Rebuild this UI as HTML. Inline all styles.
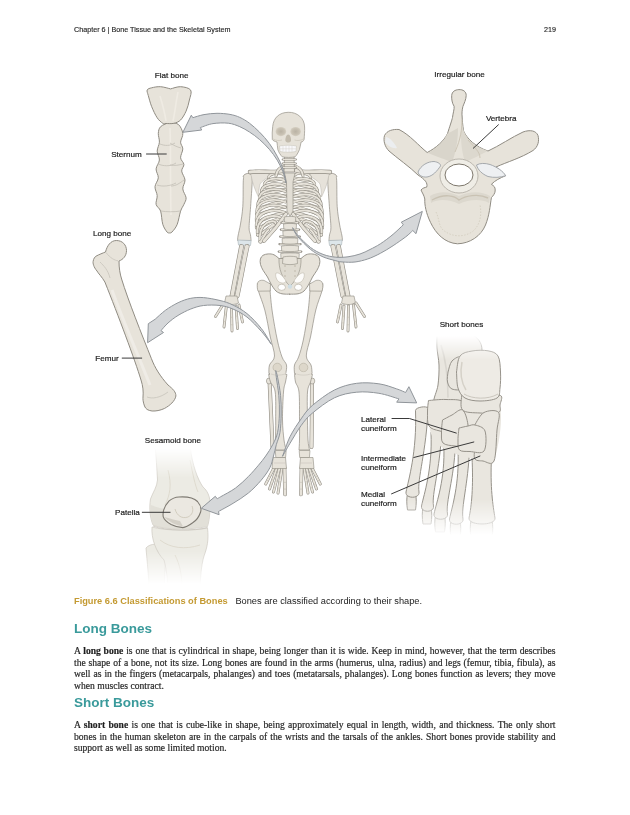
<!DOCTYPE html>
<html><head><meta charset="utf-8">
<style>
html,body{margin:0;padding:0;background:#fff;width:630px;height:815px;overflow:hidden;}
body{position:relative;font-family:"Liberation Sans",sans-serif;color:#222;}
.a{position:absolute;white-space:nowrap;}
.hdr{font-size:7.2px;color:#222;top:25px;line-height:10px;-webkit-text-stroke:0.15px #333;}
.lbl{font-size:8.5px;color:#222;line-height:10px;}
.cap{left:73.5px;top:595px;font-size:9.25px;line-height:12px;}
.cap b{color:#c49a32;}
.h2{left:74px;font-size:13.5px;font-weight:bold;color:#3a9a9b;line-height:16px;}
.p{left:74px;width:481.5px;font-family:"Liberation Serif",serif;font-size:9.6px;line-height:11.55px;color:#1c1c1c;text-align:justify;white-space:normal;-webkit-text-stroke:0.2px #333;}
.p span.l{display:block;text-align-last:justify;}
.p span.last{display:block;text-align-last:left;}
svg{position:absolute;left:0;top:0;will-change:transform;}
.a{will-change:transform;}
</style></head><body>
<div class="a hdr" style="left:74px">Chapter 6 | Bone Tissue and the Skeletal System</div>
<div class="a hdr" style="left:544px">219</div>

<svg id="ill" width="630" height="815" viewBox="0 0 630 815" font-family="Liberation Sans, sans-serif" font-size="8.1" fill="#222">
<defs>
<linearGradient id="kfade" gradientUnits="userSpaceOnUse" x1="0" y1="448" x2="0" y2="584">
<stop offset="0" stop-color="#000"/><stop offset="0.22" stop-color="#fff"/><stop offset="0.76" stop-color="#fff"/><stop offset="1" stop-color="#000"/></linearGradient>
<mask id="kmask" maskUnits="userSpaceOnUse" x="100" y="440" width="150" height="160"><rect x="100" y="440" width="150" height="160" fill="url(#kfade)"/></mask>
<linearGradient id="ffade" gradientUnits="userSpaceOnUse" x1="0" y1="336" x2="0" y2="535">
<stop offset="0" stop-color="#000"/><stop offset="0.12" stop-color="#fff"/><stop offset="0.82" stop-color="#fff"/><stop offset="1" stop-color="#000"/></linearGradient>
<mask id="fmask" maskUnits="userSpaceOnUse" x="390" y="330" width="130" height="210"><rect x="390" y="330" width="130" height="210" fill="url(#ffade)"/></mask>
</defs>
<g mask="url(#kmask)">
<path d="M146,548 C150,543 160,543 165,548 C166,556 165,570 164,600 L150,600 C149,580 147,560 146,548 Z" fill="#ecebe4" stroke="#cdc9c0" stroke-width="0.7" stroke-linejoin="round" />
<path d="M152,527 C165,531 195,531 207.5,528 C209,540 207,548 204,556 C201,566 200,580 200,600 L168,600 C168,585 167,570 164,560 C156,552 151,538 152,527 Z" fill="#ecebe4" stroke="#cdc9c0" stroke-width="0.7" stroke-linejoin="round" />
<path d="M155,445 L190,445 C192,465 198,480 203,487 C209,492 211,500 210,510 C209.5,517 209,522 207.5,526.5 C190,530 165,530 153,525 C150,518 149,508 150.5,499 C153,492 157,487 157.5,480 C157,470 156,455 155,445 Z" fill="#ecebe4" stroke="#cdc9c0" stroke-width="0.7" stroke-linejoin="round" />
<path d="M168,470 C172,485 170,495 165,505 M190,460 C193,475 195,485 198,492 M160,540 C170,548 185,550 200,545 M175,555 C180,565 182,575 182,590" fill="none" stroke="#ddd8cc" stroke-width="0.9"/>
<path d="M151,505 C165,512 195,512 209.5,505 C209.5,515 209,521 207.5,526.5 C190,530 165,530 153,525 C151,518 150.5,511 151,505 Z" fill="#dedbd3" opacity="0.7"/>
<path d="M153,526 C165,531 195,531 207.5,527.5" fill="none" stroke="#c9c5bc" stroke-width="0.8"/>
</g>
<path d="M179,497 C187,496.5 194,498 197.5,501.5 C200.5,505 201.5,509 200.6,512 C199,517 195.5,521 192.7,522.8 C189,525.5 185.5,527.5 182.9,527.6 C178,527.5 174,526 171.1,524.5 C167.5,522.5 164,519.5 163.2,516.6 C162.5,512 164.5,506 169.1,500.9 C172,498.5 175.5,497.2 179,497 Z" fill="#ebe8e1" stroke="#7f7b73" stroke-width="1.1" stroke-linejoin="round" />
<path d="M164,517 C168,521 175,525 183,526.5 L180,521 C175,520 170,518.5 164,517 Z" fill="#d3cfc6"/>
<path d="M175,509 C177,516 182,519 188,517 C192,515 194,511 192,506" fill="none" stroke="#cfc9bb" stroke-width="0.9"/>
<g mask="url(#fmask)">
<path d="M437,334 C442.5,334.0 462.5,331.3 470.0,334.0 C477.5,336.7 482.0,342.3 482.0,350.0 C482.0,357.7 473.3,371.3 470.0,380.0 C466.7,388.7 466.2,398.3 462.0,402.0 C457.8,405.7 449.7,402.0 445.0,402.0 C440.3,402.0 435.2,404.8 434.0,402.0 C432.8,399.2 437.2,391.2 438.0,385.0 C438.8,378.8 439.2,371.2 439.0,365.0 C438.8,358.8 437.3,353.2 437.0,348.0 C436.7,342.8 437.0,336.3 437.0,334.0 Z" fill="#e9e6df" stroke="#96928a" stroke-width="1.0" stroke-linejoin="round" />
<path d="M441,345 C446,360 448,378 448,398" fill="none" stroke="#d9d6cf" stroke-width="1.6"/>
<path d="M407.5,494 L415.5,494 C416.5,498 416.5,504 415.5,510 L407.5,510 C406.5,504 406.5,498 407.5,494 Z" fill="#e9e6df" stroke="#96928a" stroke-width="1.0" stroke-linejoin="round" />
<path d="M423,508 L431,508 C432,512 432,518 431,524 L423,524 C422,518 422,512 423,508 Z" fill="#e9e6df" stroke="#96928a" stroke-width="1.0" stroke-linejoin="round" />
<path d="M435.5,516 L444.5,516 C445.5,520 445.5,526 444.5,532 L435.5,532 C434.5,526 434.5,520 435.5,516 Z" fill="#e9e6df" stroke="#96928a" stroke-width="1.0" stroke-linejoin="round" />
<path d="M451,521 L460,521 C461,525 461,531 460,537 L451,537 C450,531 450,525 451,521 Z" fill="#e9e6df" stroke="#96928a" stroke-width="1.0" stroke-linejoin="round" />
<path d="M471,521 L492,521 C493,525 493,531 492,537 L471,537 C470,531 470,525 471,521 Z" fill="#e9e6df" stroke="#96928a" stroke-width="1.0" stroke-linejoin="round" />
<path d="M415.5,411 C414.5,407 429,405 428,409 C426.5,450.5 417,480 419,492 C420,499 405,499 406,492 C408.5,480 417.0,451.5 415.5,411 Z" fill="#e9e6df" stroke="#96928a" stroke-width="1.0" stroke-linejoin="round" />
<path d="M431,433 C430,429 442.5,429 441.5,433 C440.0,469.5 431.5,494 433.5,506 C434.5,513 420.5,513 421.5,506 C424.0,494 432.5,469.5 431,433 Z" fill="#e9e6df" stroke="#96928a" stroke-width="1.0" stroke-linejoin="round" />
<path d="M443.8,445 C442.8,441 456.4,441 455.4,445 C453.9,479.5 445.5,502 447.5,514 C448.5,521 433,521 434,514 C436.5,502 445.3,479.5 443.8,445 Z" fill="#e9e6df" stroke="#96928a" stroke-width="1.0" stroke-linejoin="round" />
<path d="M458,450 C457,446 470.5,446 469.5,450 C468.0,484.5 461,507 463,519 C464,526 448.5,526 449.5,519 C452.0,507 459.5,484.5 458,450 Z" fill="#e9e6df" stroke="#96928a" stroke-width="1.0" stroke-linejoin="round" />
<path d="M472,457 C471,453 492.5,453 491.5,457 C490.0,487.5 493,506 495,518 C496,526 468,526 469,518 C471.5,506 473.5,487.5 472,457 Z" fill="#e9e6df" stroke="#96928a" stroke-width="1.0" stroke-linejoin="round" />
<path d="M432,400 C442.7,399.7 485.7,388.0 496.0,398.0 C506.3,408.0 498.3,450.0 494.0,460.0 C489.7,470.0 478.5,460.0 470.0,458.0 C461.5,456.0 449.7,452.7 443.0,448.0 C436.3,443.3 431.8,438.0 430.0,430.0 C428.2,422.0 431.7,405.0 432.0,400.0 Z" fill="#e9e6df" stroke="#96928a" stroke-width="0" stroke-linejoin="round" />
<path d="M428.5,400.5 C431.4,400.3 440.2,399.2 446.0,399.5 C451.8,399.8 460.3,398.9 463.0,402.0 C465.7,405.1 463.0,412.8 462.0,418.0 C461.0,423.2 460.7,430.8 457.0,433.0 C453.3,435.2 444.7,432.2 440.0,431.0 C435.3,429.8 431.1,429.2 429.0,426.0 C426.9,422.8 427.6,416.2 427.5,412.0 C427.4,407.8 428.3,402.4 428.5,400.5 Z" fill="#e9e6df" stroke="#96928a" stroke-width="1.0" stroke-linejoin="round" />
<path d="M461.8,394.4 C465.2,395.0 475.6,397.8 482.0,398.0 C488.4,398.2 497.5,394.3 500.5,395.5 C503.5,396.7 500.3,402.2 500.0,405.0 C499.7,407.8 501.8,411.1 498.5,412.4 C495.2,413.7 486.0,413.4 480.0,413.0 C474.0,412.6 465.5,413.1 462.5,410.0 C459.5,406.9 461.9,397.0 461.8,394.4 Z" fill="#e9e6df" stroke="#96928a" stroke-width="1.0" stroke-linejoin="round" />
<path d="M474.7,425 C476.2,422.9 480.0,414.6 484.0,412.5 C488.0,410.4 496.3,409.5 498.5,412.4 C500.7,415.3 497.8,421.9 497.0,430.0 C496.2,438.1 496.3,455.8 494.0,461.0 C491.7,466.2 486.2,461.5 483.0,461.0 C479.8,460.5 475.7,461.5 474.5,458.0 C473.3,454.5 476.0,445.5 476.0,440.0 C476.0,434.5 474.9,427.5 474.7,425.0 Z" fill="#e9e6df" stroke="#96928a" stroke-width="1.0" stroke-linejoin="round" />
<path d="M442.5,420 C444.1,419.2 448.7,416.7 452.0,415.0 C455.3,413.3 459.8,408.3 462.5,410.0 C465.2,411.7 467.2,419.0 468.0,425.0 C468.8,431.0 469.2,442.5 467.0,446.0 C464.8,449.5 459.0,446.5 455.0,446.0 C451.0,445.5 445.2,445.3 443.0,443.0 C440.8,440.7 441.6,435.8 441.5,432.0 C441.4,428.2 442.3,422.0 442.5,420.0 Z" fill="#e9e6df" stroke="#96928a" stroke-width="1.0" stroke-linejoin="round" />
<path d="M459,428 C460.5,427.7 465.3,426.5 468.0,426.0 C470.7,425.5 472.2,424.2 475.0,425.0 C477.8,425.8 483.5,426.7 485.0,431.0 C486.5,435.3 486.5,447.6 484.0,451.0 C481.5,454.4 474.1,451.7 470.0,451.5 C465.9,451.3 461.5,451.9 459.5,450.0 C457.5,448.1 458.1,443.7 458.0,440.0 C457.9,436.3 458.8,430.0 459.0,428.0 Z" fill="#e9e6df" stroke="#96928a" stroke-width="1.0" stroke-linejoin="round" />
<path d="M448,372 C448.7,370.2 449.7,363.5 452.0,361.0 C454.3,358.5 459.7,355.2 462.0,357.0 C464.3,358.8 465.8,366.8 466.0,372.0 C466.2,377.2 465.3,385.2 463.0,388.0 C460.7,390.8 454.6,390.0 452.0,389.0 C449.4,388.0 448.2,384.8 447.5,382.0 C446.8,379.2 447.9,373.7 448.0,372.0 Z" fill="#e9e6df" stroke="#96928a" stroke-width="1.0" stroke-linejoin="round" />
<path d="M456.5,372 C457.1,369.3 457.4,359.5 460.0,356.0 C462.6,352.5 467.3,351.9 472.0,351.0 C476.7,350.1 483.7,350.0 488.0,350.8 C492.3,351.6 495.9,352.5 498.0,356.0 C500.1,359.5 500.2,366.7 500.5,372.0 C500.8,377.3 500.6,383.7 500.0,388.0 C499.4,392.3 500.3,395.8 497.0,398.0 C493.7,400.2 485.3,401.0 480.0,401.0 C474.7,401.0 468.7,400.2 465.0,398.0 C461.3,395.8 459.4,392.3 458.0,388.0 C456.6,383.7 456.8,374.7 456.5,372.0 Z" fill="#eeebe5" stroke="#96928a" stroke-width="1.0" stroke-linejoin="round" />
<path d="M464,394 C472,399 488,400 498,394" fill="none" stroke="#c6c2b9" stroke-width="0.9"/>
<path d="M462,362 C460,372 461,382 466,390" fill="none" stroke="#d5d1c8" stroke-width="1.5"/>
</g>
<path d="M169.4,122.2 C167.9,123.0 162.4,124.8 160.6,126.7 C158.8,128.6 158.5,130.7 158.3,133.3 C158.1,135.9 159.6,139.2 159.4,142.2 C159.2,145.2 157.2,148.1 157.2,151.1 C157.2,154.1 159.6,157.0 159.4,160.0 C159.2,163.0 156.3,165.9 156.1,168.9 C155.9,171.9 158.5,174.8 158.3,177.8 C158.1,180.8 155.2,183.7 155.0,186.7 C154.8,189.7 157.0,192.6 157.2,195.6 C157.4,198.6 155.5,201.8 156.1,204.4 C156.7,207.0 159.5,207.8 160.6,211.1 C161.7,214.4 161.7,220.9 162.8,224.4 C163.9,227.9 165.9,230.6 167.0,232.0 C168.1,233.4 169.1,232.8 169.5,233.0 C169.9,232.8 170.7,233.4 172.0,232.0 C173.3,230.6 175.8,227.9 177.2,224.4 C178.6,220.9 179.5,214.4 180.6,211.1 C181.7,207.8 183.0,206.6 183.9,204.4 C184.8,202.2 186.3,200.4 186.1,197.8 C185.9,195.2 183.0,191.9 182.8,188.9 C182.6,185.9 185.2,183.0 185.0,180.0 C184.8,177.0 181.9,173.7 181.7,171.1 C181.5,168.5 184.1,166.6 183.9,164.4 C183.7,162.2 180.8,160.4 180.6,157.8 C180.4,155.2 182.8,151.5 182.8,148.9 C182.8,146.3 180.6,144.8 180.6,142.2 C180.6,139.6 183.2,136.3 182.8,133.3 C182.4,130.3 180.5,126.2 178.3,124.4 C176.1,122.6 170.9,122.6 169.4,122.2 Z" fill="#e7e3da" stroke="#8f8b82" stroke-width="1.0" stroke-linejoin="round" />
<path d="M170.6,88.9 C172.3,88.5 177.3,86.5 180.6,86.7 C183.9,86.9 189.1,87.8 190.6,90.0 C192.1,92.2 190.2,96.5 189.4,100.0 C188.7,103.5 187.6,107.8 186.1,111.1 C184.6,114.4 182.6,118.0 180.6,120.0 C178.6,122.0 176.3,122.7 173.9,123.3 C171.5,123.9 167.8,123.5 166.0,123.5 C164.2,123.5 164.3,124.2 162.8,123.3 C161.3,122.3 159.0,120.6 157.2,117.8 C155.3,115.0 153.2,110.4 151.7,106.7 C150.2,103.0 149.1,98.4 148.3,95.6 C147.6,92.8 146.6,91.3 147.2,90.0 C147.8,88.7 149.5,88.3 151.7,87.8 C153.9,87.2 157.4,86.5 160.6,86.7 C163.8,86.9 168.9,88.5 170.6,88.9 Z" fill="#e7e3da" stroke="#8f8b82" stroke-width="1.0" stroke-linejoin="round" />
<path d="M160,96 C163,106 165,114 166,121 M178,92 C176,102 175,112 173,121 M170,128 C171,150 170,175 171,215" fill="none" stroke="#efebe3" stroke-width="1.6"/><path d="M160,144 C165,146 170,146 175,143 M170,143 C173,145 177,147 181,148 M158,164 C163,166 170,167 176,163 M170,165 C175,166 179,165 183,164 M157,185 C163,187 170,186 176,183 M171,186 C176,186 180,183 184,180 M161,211 C166,212 175,212 180.5,211" fill="none" stroke="#c3bfb6" stroke-width="0.8"/>
<path d="M458.9,89.6 C463,89.4 466.3,91.5 466.2,95.5 C466.1,99.5 464,103.5 462.9,106.5 C462,110 461.8,114 462.1,116 C462.3,120 462.6,125 463.6,131 C467,139 476,147 488,151 C499,146 512,137 523,132 C530,129.5 536,130.5 538,135.5 C539.5,141 538,147 533,150.5 C521,158 507,162 496,167 L505.7,175.7 C500,178 495,180.5 491.4,184.3 C494,186 495.2,187 495.2,190 C495.5,193 493,196 491.4,197.6 C490,206 489.5,215 485.5,225 C481,236 470,243.5 457.5,243.8 C445,243 436,234 430.5,222.4 C426,213 424.5,205 424.8,199 C424,195 422,192.5 421,190 C422.5,188 425,187.5 426.7,187.1 C428,183 425,179.5 418,175 C410,167 397,158 389,151 C385,147 383,141 384.5,135.5 C387,130.5 393,129 399,129.5 C410,135 419,146 427.2,152.5 C436,148 444,141 447.5,133.6 C449.5,127 452,120 452.5,117.4 C453,113 454.5,109 454.1,106.3 C452,103 451.5,99 451.7,95.5 C452,91.5 455,89.8 458.9,89.6 Z" fill="#e7e3da" stroke="#8f8b82" stroke-width="1.0" stroke-linejoin="round" />
<path d="M447,134 C444,142 436,149 428,153 C436,156 446,160 452,162 C456,152 458,140 458,128 Z" fill="#d9d5cb"/>
<path d="M462,122 C463,135 470,145 488,151 C478,156 470,160 465,162 C461,150 460,135 462,122 Z" fill="#dcd8ce"/>
<path d="M430,196 C440,190 450,192 459,196 C468,192 480,190 490,196 L489,203 C480,198 468,200 459,204 C450,200 440,198 431,203 Z" fill="#dcd8ce"/>
<path d="M418,172 C421,165 428,161.5 434,161.5 C438,162 441,164 440.5,166 C437,171 433,176 427,177 C422,177.5 418.5,175 418,172 Z" fill="#eef0f2" stroke="#9da1a6" stroke-width="0.9" stroke-linejoin="round" />
<path d="M476.5,165 C480,163 485,163 490,164.5 C497,167 503,171 505.7,175.7 C500,177.5 494,178 488,176.5 C482,174 478,170 476.5,165 Z" fill="#eef0f2" stroke="#9da1a6" stroke-width="0.9" stroke-linejoin="round" />
<path d="M386,137 C390,138 394,142 397,148 C393,149 388,146 385,142 Z" fill="#eceef0" stroke="none" stroke-width="0" stroke-linejoin="round" />
<ellipse cx="459" cy="176" rx="19" ry="17" fill="#efede6" stroke="#b5b1a8" stroke-width="0.9"/>
<ellipse cx="459" cy="175" rx="14" ry="11" fill="#ffffff" stroke="#7d776c" stroke-width="1"/>
<path d="M432,200 C445,193 455,196 459,200 C465,196 478,193 488,198" fill="none" stroke="#c9c2b3" stroke-width="1.4"/>
<path d="M436,212 C440,220 438,228 446,232 C452,236 462,238 472,232 C480,226 482,215 480,205" fill="none" stroke="#cfc8b9" stroke-width="0.7" stroke-dasharray="1.5 1.5"/>
<path d="M462,120 C462,135 458,145 455,152 M468,140 C475,148 480,152 480,158" fill="none" stroke="#cdc6b7" stroke-width="1"/>
<path d="M116.4,240.5 C122.5,240.5 126.5,245 126.5,250.5 C126.5,256 123,259.5 119,261 C119,268 120,274 121.6,279 C128,300 142,335 151.4,358.6 C155,368 160,376 168,385 C173,389 176,392 175.9,396 C175,401 170,405.5 164.4,408.5 C160,410.5 156,411.2 152.1,411 C148,410.5 145.5,409 144.5,406 C143,402 142.8,399 143,397 C143.5,392 143,386 141,380 C135,360 118,315 104.9,282 C102,277 98,273 97,271 C93.5,267 92.8,263 93.1,261.5 C93.5,258.5 95,256.8 96,256.2 C99,254.5 103,253 105.5,252 C107,246 110.5,240.5 116.4,240.5 Z" fill="#e7e3da" stroke="#8f8b82" stroke-width="1.0" stroke-linejoin="round" />
<path d="M106,252.5 C110,258 115,260.5 118,260.8 M100,262 C104,266 108,270 110,278 M147,397 C152,399 160,398 168,392" fill="none" stroke="#cbc7be" stroke-width="0.9"/>
<path d="M112,290 C122,318 136,350 150,385" fill="none" stroke="#efece6" stroke-width="3"/>
<path d="M244.5,174.8 C244.3,175.8 243.6,175.3 243.3,180.6 C243.0,185.9 243.3,199.5 242.8,206.7 C242.3,213.9 241.3,219.1 240.5,224.0 C239.7,228.9 238.5,233.2 238.0,236.0 C237.5,238.8 237.7,239.8 237.6,240.5 L251.1,240.5 C251.0,239.6 250.8,237.2 250.5,235.0 C250.2,232.8 249.1,232.2 249.1,227.5 C249.1,222.8 250.1,214.3 250.6,206.7 C251.1,199.1 252.0,187.3 252.2,182.0 C252.3,176.7 251.6,175.8 251.5,174.6 Z" fill="#e7e3da" stroke="#8f8b82" stroke-width="0.7" stroke-linejoin="round" />
<path d="M328.5,174.6 C328.4,175.8 327.7,176.7 327.8,182.0 C327.9,187.3 328.9,199.1 329.4,206.7 C329.9,214.3 330.9,222.8 330.9,227.5 C330.9,232.2 329.8,232.8 329.5,235.0 C329.2,237.2 329.0,239.6 328.9,240.5 L342.4,240.5 C342.3,239.8 342.5,238.8 342.0,236.0 C341.5,233.2 340.3,228.9 339.5,224.0 C338.7,219.1 337.7,213.9 337.2,206.7 C336.7,199.5 337.0,185.9 336.7,180.6 C336.4,175.3 335.7,175.8 335.5,174.8 Z" fill="#e7e3da" stroke="#8f8b82" stroke-width="0.7" stroke-linejoin="round" />
<path d="M243,177 C244,173 250,172 252.5,176" fill="#e7e3da" stroke="#8f8b82" stroke-width="0.7"/>
<path d="M337,177 C336,173 330,172 327.5,176" fill="#e7e3da" stroke="#8f8b82" stroke-width="0.7"/>
<path d="M237.8,240 L251.2,240.5 L250.5,245.5 L238.5,245 Z" fill="#dde6ea" stroke="#a9b3b8" stroke-width="0.6"/>
<path d="M342.2,240 L328.8,240.5 L329.5,245.5 L341.5,245 Z" fill="#dde6ea" stroke="#a9b3b8" stroke-width="0.6"/>
<path d="M241.5,246.5 C238.5,262 235.5,278 232,296" fill="none" stroke="#8f8b82" stroke-width="4.8" stroke-linecap="round" stroke-linejoin="round"/><path d="M241.5,246.5 C238.5,262 235.5,278 232,296" fill="none" stroke="#e7e3da" stroke-width="3.6" stroke-linecap="round" stroke-linejoin="round"/>
<path d="M247,246.5 C243.5,262 240.5,280 237,296" fill="none" stroke="#8f8b82" stroke-width="5.0" stroke-linecap="round" stroke-linejoin="round"/><path d="M247,246.5 C243.5,262 240.5,280 237,296" fill="none" stroke="#e7e3da" stroke-width="3.8" stroke-linecap="round" stroke-linejoin="round"/>
<path d="M338.5,246.5 C341.5,262 344.5,278 348,296" fill="none" stroke="#8f8b82" stroke-width="4.8" stroke-linecap="round" stroke-linejoin="round"/><path d="M338.5,246.5 C341.5,262 344.5,278 348,296" fill="none" stroke="#e7e3da" stroke-width="3.6" stroke-linecap="round" stroke-linejoin="round"/>
<path d="M333,246.5 C336.5,262 339.5,280 343,296" fill="none" stroke="#8f8b82" stroke-width="5.0" stroke-linecap="round" stroke-linejoin="round"/><path d="M333,246.5 C336.5,262 339.5,280 343,296" fill="none" stroke="#e7e3da" stroke-width="3.8" stroke-linecap="round" stroke-linejoin="round"/>
<path d="M226.0,296 L237.0,296 L238.5,303 C234.5,305 228.5,305 224.5,303 Z" fill="#e7e3da" stroke="#8f8b82" stroke-width="0.6" stroke-linejoin="round" /><path d="M224.0,303 L215.5,316.5" fill="none" stroke="#8f8b82" stroke-width="2.8" stroke-linecap="round" stroke-linejoin="round"/><path d="M224.0,303 L215.5,316.5" fill="none" stroke="#e7e3da" stroke-width="1.7" stroke-linecap="round" stroke-linejoin="round"/><path d="M226.5,305 L224.0,327" fill="none" stroke="#8f8b82" stroke-width="2.8" stroke-linecap="round" stroke-linejoin="round"/><path d="M226.5,305 L224.0,327" fill="none" stroke="#e7e3da" stroke-width="1.7" stroke-linecap="round" stroke-linejoin="round"/><path d="M231.5,306 L232.0,331" fill="none" stroke="#8f8b82" stroke-width="2.8" stroke-linecap="round" stroke-linejoin="round"/><path d="M231.5,306 L232.0,331" fill="none" stroke="#e7e3da" stroke-width="1.7" stroke-linecap="round" stroke-linejoin="round"/><path d="M236.0,306 L237.5,328.5" fill="none" stroke="#8f8b82" stroke-width="2.8" stroke-linecap="round" stroke-linejoin="round"/><path d="M236.0,306 L237.5,328.5" fill="none" stroke="#e7e3da" stroke-width="1.7" stroke-linecap="round" stroke-linejoin="round"/><path d="M239.0,305 L242.5,322" fill="none" stroke="#8f8b82" stroke-width="2.8" stroke-linecap="round" stroke-linejoin="round"/><path d="M239.0,305 L242.5,322" fill="none" stroke="#e7e3da" stroke-width="1.7" stroke-linecap="round" stroke-linejoin="round"/><path d="M224.075,314.9 L226.675,314.9" stroke="#c2bcae" stroke-width="0.5"/><path d="M223.325,321.5 L225.925,321.5" stroke="#c2bcae" stroke-width="0.5"/><path d="M230.42499999999998,317.25 L233.025,317.25" stroke="#c2bcae" stroke-width="0.5"/><path d="M230.575,324.75 L233.175,324.75" stroke="#c2bcae" stroke-width="0.5"/><path d="M235.375,316.125 L237.97500000000002,316.125" stroke="#c2bcae" stroke-width="0.5"/><path d="M235.825,322.875 L238.425,322.875" stroke="#c2bcae" stroke-width="0.5"/><path d="M239.27499999999998,312.65 L241.875,312.65" stroke="#c2bcae" stroke-width="0.5"/><path d="M240.325,317.75 L242.925,317.75" stroke="#c2bcae" stroke-width="0.5"/>
<path d="M354.0,296 L343.0,296 L341.5,303 C345.5,305 351.5,305 355.5,303 Z" fill="#e7e3da" stroke="#8f8b82" stroke-width="0.6" stroke-linejoin="round" /><path d="M356.0,303 L364.5,316.5" fill="none" stroke="#8f8b82" stroke-width="2.8" stroke-linecap="round" stroke-linejoin="round"/><path d="M356.0,303 L364.5,316.5" fill="none" stroke="#e7e3da" stroke-width="1.7" stroke-linecap="round" stroke-linejoin="round"/><path d="M353.5,305 L356.0,327" fill="none" stroke="#8f8b82" stroke-width="2.8" stroke-linecap="round" stroke-linejoin="round"/><path d="M353.5,305 L356.0,327" fill="none" stroke="#e7e3da" stroke-width="1.7" stroke-linecap="round" stroke-linejoin="round"/><path d="M348.5,306 L348.0,331" fill="none" stroke="#8f8b82" stroke-width="2.8" stroke-linecap="round" stroke-linejoin="round"/><path d="M348.5,306 L348.0,331" fill="none" stroke="#e7e3da" stroke-width="1.7" stroke-linecap="round" stroke-linejoin="round"/><path d="M344.0,306 L342.5,328.5" fill="none" stroke="#8f8b82" stroke-width="2.8" stroke-linecap="round" stroke-linejoin="round"/><path d="M344.0,306 L342.5,328.5" fill="none" stroke="#e7e3da" stroke-width="1.7" stroke-linecap="round" stroke-linejoin="round"/><path d="M341.0,305 L337.5,322" fill="none" stroke="#8f8b82" stroke-width="2.8" stroke-linecap="round" stroke-linejoin="round"/><path d="M341.0,305 L337.5,322" fill="none" stroke="#e7e3da" stroke-width="1.7" stroke-linecap="round" stroke-linejoin="round"/><path d="M353.325,314.9 L355.925,314.9" stroke="#c2bcae" stroke-width="0.5"/><path d="M354.075,321.5 L356.675,321.5" stroke="#c2bcae" stroke-width="0.5"/><path d="M346.97499999999997,317.25 L349.575,317.25" stroke="#c2bcae" stroke-width="0.5"/><path d="M346.825,324.75 L349.425,324.75" stroke="#c2bcae" stroke-width="0.5"/><path d="M342.025,316.125 L344.625,316.125" stroke="#c2bcae" stroke-width="0.5"/><path d="M341.575,322.875 L344.175,322.875" stroke="#c2bcae" stroke-width="0.5"/><path d="M338.125,312.65 L340.725,312.65" stroke="#c2bcae" stroke-width="0.5"/><path d="M337.075,317.75 L339.675,317.75" stroke="#c2bcae" stroke-width="0.5"/>
<path d="M257.4,283.5 C257.6,284.8 257.3,286.8 258.5,291.2 C259.7,295.6 262.8,302.4 264.8,310.0 C266.8,317.6 268.7,329.3 270.3,337.0 C271.9,344.7 274.6,351.3 274.5,356.0 C274.4,360.7 270.4,362.1 269.5,365.0 C268.6,367.9 269.0,372.1 268.9,373.5 L285.8,373.5 C285.9,372.1 287.1,367.8 286.5,365.0 C285.9,362.2 283.5,361.2 282.0,357.0 C280.5,352.8 278.9,347.5 277.3,340.0 C275.7,332.5 273.5,320.3 272.3,312.0 C271.1,303.7 270.4,294.8 270.0,290.0 C269.6,285.2 270.2,284.6 270.2,283.5 Z" fill="#e7e3da" stroke="#8f8b82" stroke-width="0.7" stroke-linejoin="round" />
<path d="M309.8,283.5 C309.8,284.6 310.3,285.2 310.0,290.0 C309.7,294.8 309.1,303.7 308.0,312.0 C306.9,320.3 304.9,332.5 303.3,340.0 C301.7,347.5 300.1,352.8 298.6,357.0 C297.1,361.2 295.2,362.2 294.5,365.0 C293.8,367.8 294.5,372.1 294.5,373.5 L312.1,373.5 C311.9,372.1 312.0,367.9 311.0,365.0 C310.0,362.1 306.4,360.7 306.3,356.0 C306.2,351.3 308.9,344.7 310.5,337.0 C312.1,329.3 313.9,317.6 315.8,310.0 C317.7,302.4 320.7,295.6 321.9,291.2 C323.1,286.8 322.7,284.8 322.9,283.5 Z" fill="#e7e3da" stroke="#8f8b82" stroke-width="0.7" stroke-linejoin="round" />
<circle cx="277.3" cy="367.5" r="4.3" fill="#ddd7ca" stroke="#bcb6a8" stroke-width="0.7"/>
<circle cx="303.5" cy="367.5" r="4.3" fill="#ddd7ca" stroke="#bcb6a8" stroke-width="0.7"/>
<path d="M269.5,380 C270.5,400 271.5,425 272.5,447" fill="none" stroke="#8f8b82" stroke-width="4.0" stroke-linecap="round" stroke-linejoin="round"/><path d="M269.5,380 C270.5,400 271.5,425 272.5,447" fill="none" stroke="#e7e3da" stroke-width="2.8" stroke-linecap="round" stroke-linejoin="round"/>
<path d="M312,380 C312,400 311.8,425 311.5,447" fill="none" stroke="#8f8b82" stroke-width="4.0" stroke-linecap="round" stroke-linejoin="round"/><path d="M312,380 C312,400 311.8,425 311.5,447" fill="none" stroke="#e7e3da" stroke-width="2.8" stroke-linecap="round" stroke-linejoin="round"/>
<ellipse cx="269" cy="381" rx="2.6" ry="3" fill="#e7e3da" stroke="#8f8b82" stroke-width="0.6"/>
<ellipse cx="312.2" cy="381" rx="2.6" ry="3" fill="#e7e3da" stroke="#8f8b82" stroke-width="0.6"/>
<path d="M268.6,374.5 C268.9,375.8 269.4,379.1 270.5,382.0 C271.6,384.9 274.3,385.7 275.2,392.0 C276.1,398.3 275.6,412.0 275.7,420.0 C275.8,428.0 275.5,435.0 275.5,440.0 C275.5,445.0 275.7,448.3 275.7,450.0 L286.1,450 C285.8,448.3 284.6,445.0 284.0,440.0 C283.4,435.0 282.6,428.0 282.5,420.0 C282.4,412.0 283.0,398.3 283.5,392.0 C284.0,385.7 284.9,384.9 285.5,382.0 C286.1,379.1 286.7,375.8 286.9,374.5 Z" fill="#e7e3da" stroke="#8f8b82" stroke-width="0.7" stroke-linejoin="round" />
<path d="M294.5,374.5 C294.7,375.8 294.8,379.1 295.5,382.0 C296.2,384.9 298.3,385.7 299.0,392.0 C299.7,398.3 299.4,412.0 299.5,420.0 C299.6,428.0 299.6,435.0 299.5,440.0 C299.4,445.0 299.1,448.3 299.0,450.0 L309.5,450 C309.2,448.3 308.3,445.0 308.0,440.0 C307.7,435.0 307.6,428.0 307.5,420.0 C307.4,412.0 307.0,398.3 307.5,392.0 C308.0,385.7 309.7,384.9 310.5,382.0 C311.3,379.1 312.2,375.8 312.5,374.5 Z" fill="#e7e3da" stroke="#8f8b82" stroke-width="0.7" stroke-linejoin="round" />
<rect x="270" y="372.5" width="15.5" height="3.2" fill="#e7e3da"/><rect x="295.8" y="372.5" width="15.5" height="3.2" fill="#e7e3da"/>
<path d="M271,374 C275,375.5 281,375.5 285,374 M296.5,374 C300.5,375.5 306.5,375.5 310.5,374" fill="none" stroke="#cdc9c0" stroke-width="0.7"/>
<path d="M275.3,450.5 L286.2,450.5 L285.6,457.5 L275.8,457.5 Z" fill="#e7e3da" stroke="#8f8b82" stroke-width="0.6" stroke-linejoin="round" />
<path d="M299.2,450.5 L310,450.5 L309.4,457.5 L299.7,457.5 Z" fill="#e7e3da" stroke="#8f8b82" stroke-width="0.6" stroke-linejoin="round" />
<path d="M274.5,467 L265.7,484" fill="none" stroke="#8f8b82" stroke-width="2.9000000000000004" stroke-linecap="round" stroke-linejoin="round"/><path d="M274.5,467 L265.7,484" fill="none" stroke="#e7e3da" stroke-width="1.8" stroke-linecap="round" stroke-linejoin="round"/><path d="M277.0,467.5 L269.5,489" fill="none" stroke="#8f8b82" stroke-width="2.9000000000000004" stroke-linecap="round" stroke-linejoin="round"/><path d="M277.0,467.5 L269.5,489" fill="none" stroke="#e7e3da" stroke-width="1.8" stroke-linecap="round" stroke-linejoin="round"/><path d="M279.5,468 L273.5,492" fill="none" stroke="#8f8b82" stroke-width="2.9000000000000004" stroke-linecap="round" stroke-linejoin="round"/><path d="M279.5,468 L273.5,492" fill="none" stroke="#e7e3da" stroke-width="1.8" stroke-linecap="round" stroke-linejoin="round"/><path d="M282.0,468 L278.0,493" fill="none" stroke="#8f8b82" stroke-width="2.9000000000000004" stroke-linecap="round" stroke-linejoin="round"/><path d="M282.0,468 L278.0,493" fill="none" stroke="#e7e3da" stroke-width="1.8" stroke-linecap="round" stroke-linejoin="round"/><path d="M284.5,467.5 L285.0,494.5" fill="none" stroke="#8f8b82" stroke-width="3.7" stroke-linecap="round" stroke-linejoin="round"/><path d="M284.5,467.5 L285.0,494.5" fill="none" stroke="#e7e3da" stroke-width="2.6" stroke-linecap="round" stroke-linejoin="round"/><path d="M268.46000000000004,476.35 L270.86,476.35" stroke="#bdb9b0" stroke-width="0.5"/><path d="M266.26,480.6 L268.65999999999997,480.6" stroke="#bdb9b0" stroke-width="0.5"/><path d="M271.675,479.325 L274.075,479.325" stroke="#bdb9b0" stroke-width="0.5"/><path d="M269.8,484.7 L272.2,484.7" stroke="#bdb9b0" stroke-width="0.5"/><path d="M275.0,481.2 L277.4,481.2" stroke="#bdb9b0" stroke-width="0.5"/><path d="M273.5,487.2 L275.9,487.2" stroke="#bdb9b0" stroke-width="0.5"/><path d="M278.6,481.75 L281.0,481.75" stroke="#bdb9b0" stroke-width="0.5"/><path d="M277.6,488.0 L280.0,488.0" stroke="#bdb9b0" stroke-width="0.5"/><path d="M283.575,482.35 L285.97499999999997,482.35" stroke="#bdb9b0" stroke-width="0.5"/><path d="M283.7,489.1 L286.09999999999997,489.1" stroke="#bdb9b0" stroke-width="0.5"/><path d="M273.0,457.5 L285.5,457.5 L286.5,468.5 L272.0,468.5 Z" fill="#e7e3da" stroke="#8f8b82" stroke-width="0.6" stroke-linejoin="round" /><path d="M274.0,463 L285.8,463" stroke="#c9c5bc" stroke-width="0.6"/>
<path d="M311.5,467 L320.3,484" fill="none" stroke="#8f8b82" stroke-width="2.9000000000000004" stroke-linecap="round" stroke-linejoin="round"/><path d="M311.5,467 L320.3,484" fill="none" stroke="#e7e3da" stroke-width="1.8" stroke-linecap="round" stroke-linejoin="round"/><path d="M309.0,467.5 L316.5,489" fill="none" stroke="#8f8b82" stroke-width="2.9000000000000004" stroke-linecap="round" stroke-linejoin="round"/><path d="M309.0,467.5 L316.5,489" fill="none" stroke="#e7e3da" stroke-width="1.8" stroke-linecap="round" stroke-linejoin="round"/><path d="M306.5,468 L312.5,492" fill="none" stroke="#8f8b82" stroke-width="2.9000000000000004" stroke-linecap="round" stroke-linejoin="round"/><path d="M306.5,468 L312.5,492" fill="none" stroke="#e7e3da" stroke-width="1.8" stroke-linecap="round" stroke-linejoin="round"/><path d="M304.0,468 L308.0,493" fill="none" stroke="#8f8b82" stroke-width="2.9000000000000004" stroke-linecap="round" stroke-linejoin="round"/><path d="M304.0,468 L308.0,493" fill="none" stroke="#e7e3da" stroke-width="1.8" stroke-linecap="round" stroke-linejoin="round"/><path d="M301.5,467.5 L301.0,494.5" fill="none" stroke="#8f8b82" stroke-width="3.7" stroke-linecap="round" stroke-linejoin="round"/><path d="M301.5,467.5 L301.0,494.5" fill="none" stroke="#e7e3da" stroke-width="2.6" stroke-linecap="round" stroke-linejoin="round"/><path d="M315.14,476.35 L317.53999999999996,476.35" stroke="#bdb9b0" stroke-width="0.5"/><path d="M317.34000000000003,480.6 L319.74,480.6" stroke="#bdb9b0" stroke-width="0.5"/><path d="M311.925,479.325 L314.325,479.325" stroke="#bdb9b0" stroke-width="0.5"/><path d="M313.8,484.7 L316.2,484.7" stroke="#bdb9b0" stroke-width="0.5"/><path d="M308.6,481.2 L311.0,481.2" stroke="#bdb9b0" stroke-width="0.5"/><path d="M310.1,487.2 L312.5,487.2" stroke="#bdb9b0" stroke-width="0.5"/><path d="M305.0,481.75 L307.4,481.75" stroke="#bdb9b0" stroke-width="0.5"/><path d="M306.0,488.0 L308.4,488.0" stroke="#bdb9b0" stroke-width="0.5"/><path d="M300.02500000000003,482.35 L302.425,482.35" stroke="#bdb9b0" stroke-width="0.5"/><path d="M299.90000000000003,489.1 L302.3,489.1" stroke="#bdb9b0" stroke-width="0.5"/><path d="M313.0,457.5 L300.5,457.5 L299.5,468.5 L314.0,468.5 Z" fill="#e7e3da" stroke="#8f8b82" stroke-width="0.6" stroke-linejoin="round" /><path d="M312.0,463 L300.2,463" stroke="#c9c5bc" stroke-width="0.6"/>
<path d="M268,172 C260,180 257,192 257,205 C257,220 260,232 264,241 C272,233 280,222 286.8,215 L292,215 C299,222 307,233 315,241 C319,232 322,220 322,205 C322,192 319,180 311,172 Z" fill="#fbfaf7" stroke="none" stroke-width="0" stroke-linejoin="round" />
<path d="M250,171.5 C260,170 272,171 284,172 C275,174 264,178 260,184 C259,188 258.5,192 258.5,197 C255,190 252.5,183 251.5,177 Z" fill="#e6e2da" stroke="#b9b5ac" stroke-width="0.5" stroke-linejoin="round" />
<path d="M330,171.5 C320,170 308,171 296,172 C305,174 316,178 320,184 C321,188 321.5,192 321.5,197 C325,190 327.5,183 328.5,177 Z" fill="#e6e2da" stroke="#b9b5ac" stroke-width="0.5" stroke-linejoin="round" />
<path d="M285.3,175.5 C279.0,171.0 266.5,173.5 268.5,179.5" fill="none" stroke="#8f8b82" stroke-width="2.9" stroke-linecap="round" stroke-linejoin="round"/><path d="M285.3,175.5 C279.0,171.0 266.5,173.5 268.5,179.5" fill="none" stroke="#e7e3da" stroke-width="1.9" stroke-linecap="round" stroke-linejoin="round"/>
<path d="M268.5,179.5 C269.5,182.5 277.9,179.0 285.3,178.0" fill="none" stroke="#8f8b82" stroke-width="3.2" stroke-linecap="round" stroke-linejoin="round"/><path d="M268.5,179.5 C269.5,182.5 277.9,179.0 285.3,178.0" fill="none" stroke="#e7e3da" stroke-width="2.2" stroke-linecap="round" stroke-linejoin="round"/>
<path d="M293.7,175.5 C300.0,171.0 312.5,173.5 310.5,179.5" fill="none" stroke="#8f8b82" stroke-width="2.9" stroke-linecap="round" stroke-linejoin="round"/><path d="M293.7,175.5 C300.0,171.0 312.5,173.5 310.5,179.5" fill="none" stroke="#e7e3da" stroke-width="1.9" stroke-linecap="round" stroke-linejoin="round"/>
<path d="M310.5,179.5 C309.5,182.5 301.1,179.0 293.7,178.0" fill="none" stroke="#8f8b82" stroke-width="3.2" stroke-linecap="round" stroke-linejoin="round"/><path d="M310.5,179.5 C309.5,182.5 301.1,179.0 293.7,178.0" fill="none" stroke="#e7e3da" stroke-width="2.2" stroke-linecap="round" stroke-linejoin="round"/>
<path d="M285.3,180.8 C277.0,176.3 262.5,178.8 264.5,186.4" fill="none" stroke="#8f8b82" stroke-width="2.9" stroke-linecap="round" stroke-linejoin="round"/><path d="M285.3,180.8 C277.0,176.3 262.5,178.8 264.5,186.4" fill="none" stroke="#e7e3da" stroke-width="1.9" stroke-linecap="round" stroke-linejoin="round"/>
<path d="M264.5,186.4 C265.5,189.4 275.8,184.8 285.3,183.8" fill="none" stroke="#8f8b82" stroke-width="3.2" stroke-linecap="round" stroke-linejoin="round"/><path d="M264.5,186.4 C265.5,189.4 275.8,184.8 285.3,183.8" fill="none" stroke="#e7e3da" stroke-width="2.2" stroke-linecap="round" stroke-linejoin="round"/>
<path d="M293.7,180.8 C302.0,176.3 316.5,178.8 314.5,186.4" fill="none" stroke="#8f8b82" stroke-width="2.9" stroke-linecap="round" stroke-linejoin="round"/><path d="M293.7,180.8 C302.0,176.3 316.5,178.8 314.5,186.4" fill="none" stroke="#e7e3da" stroke-width="1.9" stroke-linecap="round" stroke-linejoin="round"/>
<path d="M314.5,186.4 C313.5,189.4 303.2,184.8 293.7,183.8" fill="none" stroke="#8f8b82" stroke-width="3.2" stroke-linecap="round" stroke-linejoin="round"/><path d="M314.5,186.4 C313.5,189.4 303.2,184.8 293.7,183.8" fill="none" stroke="#e7e3da" stroke-width="2.2" stroke-linecap="round" stroke-linejoin="round"/>
<path d="M285.3,186.1 C275.5,181.6 259.5,184.1 261.5,193.3" fill="none" stroke="#8f8b82" stroke-width="2.9" stroke-linecap="round" stroke-linejoin="round"/><path d="M285.3,186.1 C275.5,181.6 259.5,184.1 261.5,193.3" fill="none" stroke="#e7e3da" stroke-width="1.9" stroke-linecap="round" stroke-linejoin="round"/>
<path d="M261.5,193.3 C262.5,196.3 274.1,190.6 285.3,189.6" fill="none" stroke="#8f8b82" stroke-width="3.2" stroke-linecap="round" stroke-linejoin="round"/><path d="M261.5,193.3 C262.5,196.3 274.1,190.6 285.3,189.6" fill="none" stroke="#e7e3da" stroke-width="2.2" stroke-linecap="round" stroke-linejoin="round"/>
<path d="M293.7,186.1 C303.5,181.6 319.5,184.1 317.5,193.3" fill="none" stroke="#8f8b82" stroke-width="2.9" stroke-linecap="round" stroke-linejoin="round"/><path d="M293.7,186.1 C303.5,181.6 319.5,184.1 317.5,193.3" fill="none" stroke="#e7e3da" stroke-width="1.9" stroke-linecap="round" stroke-linejoin="round"/>
<path d="M317.5,193.3 C316.5,196.3 304.9,190.6 293.7,189.6" fill="none" stroke="#8f8b82" stroke-width="3.2" stroke-linecap="round" stroke-linejoin="round"/><path d="M317.5,193.3 C316.5,196.3 304.9,190.6 293.7,189.6" fill="none" stroke="#e7e3da" stroke-width="2.2" stroke-linecap="round" stroke-linejoin="round"/>
<path d="M285.3,191.4 C274.5,186.9 257.5,189.4 259.5,200.2" fill="none" stroke="#8f8b82" stroke-width="2.9" stroke-linecap="round" stroke-linejoin="round"/><path d="M285.3,191.4 C274.5,186.9 257.5,189.4 259.5,200.2" fill="none" stroke="#e7e3da" stroke-width="1.9" stroke-linecap="round" stroke-linejoin="round"/>
<path d="M259.5,200.2 C260.5,203.2 273.0,196.4 285.3,195.4" fill="none" stroke="#8f8b82" stroke-width="3.2" stroke-linecap="round" stroke-linejoin="round"/><path d="M259.5,200.2 C260.5,203.2 273.0,196.4 285.3,195.4" fill="none" stroke="#e7e3da" stroke-width="2.2" stroke-linecap="round" stroke-linejoin="round"/>
<path d="M293.7,191.4 C304.5,186.9 321.5,189.4 319.5,200.2" fill="none" stroke="#8f8b82" stroke-width="2.9" stroke-linecap="round" stroke-linejoin="round"/><path d="M293.7,191.4 C304.5,186.9 321.5,189.4 319.5,200.2" fill="none" stroke="#e7e3da" stroke-width="1.9" stroke-linecap="round" stroke-linejoin="round"/>
<path d="M319.5,200.2 C318.5,203.2 306.0,196.4 293.7,195.4" fill="none" stroke="#8f8b82" stroke-width="3.2" stroke-linecap="round" stroke-linejoin="round"/><path d="M319.5,200.2 C318.5,203.2 306.0,196.4 293.7,195.4" fill="none" stroke="#e7e3da" stroke-width="2.2" stroke-linecap="round" stroke-linejoin="round"/>
<path d="M285.3,196.7 C273.8,192.2 256.0,194.7 258.0,207.1" fill="none" stroke="#8f8b82" stroke-width="2.9" stroke-linecap="round" stroke-linejoin="round"/><path d="M285.3,196.7 C273.8,192.2 256.0,194.7 258.0,207.1" fill="none" stroke="#e7e3da" stroke-width="1.9" stroke-linecap="round" stroke-linejoin="round"/>
<path d="M258.0,207.1 C259.0,210.1 272.2,202.2 285.3,201.2" fill="none" stroke="#8f8b82" stroke-width="3.2" stroke-linecap="round" stroke-linejoin="round"/><path d="M258.0,207.1 C259.0,210.1 272.2,202.2 285.3,201.2" fill="none" stroke="#e7e3da" stroke-width="2.2" stroke-linecap="round" stroke-linejoin="round"/>
<path d="M293.7,196.7 C305.2,192.2 323.0,194.7 321.0,207.1" fill="none" stroke="#8f8b82" stroke-width="2.9" stroke-linecap="round" stroke-linejoin="round"/><path d="M293.7,196.7 C305.2,192.2 323.0,194.7 321.0,207.1" fill="none" stroke="#e7e3da" stroke-width="1.9" stroke-linecap="round" stroke-linejoin="round"/>
<path d="M321.0,207.1 C320.0,210.1 306.8,202.2 293.7,201.2" fill="none" stroke="#8f8b82" stroke-width="3.2" stroke-linecap="round" stroke-linejoin="round"/><path d="M321.0,207.1 C320.0,210.1 306.8,202.2 293.7,201.2" fill="none" stroke="#e7e3da" stroke-width="2.2" stroke-linecap="round" stroke-linejoin="round"/>
<path d="M285.3,202.0 C273.2,197.5 255.0,200.0 257.0,214.0" fill="none" stroke="#8f8b82" stroke-width="2.9" stroke-linecap="round" stroke-linejoin="round"/><path d="M285.3,202.0 C273.2,197.5 255.0,200.0 257.0,214.0" fill="none" stroke="#e7e3da" stroke-width="1.9" stroke-linecap="round" stroke-linejoin="round"/>
<path d="M257.0,214.0 C258.0,217.0 271.6,208.0 285.3,207.0" fill="none" stroke="#8f8b82" stroke-width="3.2" stroke-linecap="round" stroke-linejoin="round"/><path d="M257.0,214.0 C258.0,217.0 271.6,208.0 285.3,207.0" fill="none" stroke="#e7e3da" stroke-width="2.2" stroke-linecap="round" stroke-linejoin="round"/>
<path d="M293.7,202.0 C305.8,197.5 324.0,200.0 322.0,214.0" fill="none" stroke="#8f8b82" stroke-width="2.9" stroke-linecap="round" stroke-linejoin="round"/><path d="M293.7,202.0 C305.8,197.5 324.0,200.0 322.0,214.0" fill="none" stroke="#e7e3da" stroke-width="1.9" stroke-linecap="round" stroke-linejoin="round"/>
<path d="M322.0,214.0 C321.0,217.0 307.4,208.0 293.7,207.0" fill="none" stroke="#8f8b82" stroke-width="3.2" stroke-linecap="round" stroke-linejoin="round"/><path d="M322.0,214.0 C321.0,217.0 307.4,208.0 293.7,207.0" fill="none" stroke="#e7e3da" stroke-width="2.2" stroke-linecap="round" stroke-linejoin="round"/>
<path d="M285.3,207.3 C273.0,202.8 254.5,205.3 256.5,220.9" fill="none" stroke="#8f8b82" stroke-width="2.9" stroke-linecap="round" stroke-linejoin="round"/><path d="M285.3,207.3 C273.0,202.8 254.5,205.3 256.5,220.9" fill="none" stroke="#e7e3da" stroke-width="1.9" stroke-linecap="round" stroke-linejoin="round"/>
<path d="M256.5,220.9 C257.5,223.9 271.4,213.8 285.3,212.8" fill="none" stroke="#8f8b82" stroke-width="3.2" stroke-linecap="round" stroke-linejoin="round"/><path d="M256.5,220.9 C257.5,223.9 271.4,213.8 285.3,212.8" fill="none" stroke="#e7e3da" stroke-width="2.2" stroke-linecap="round" stroke-linejoin="round"/>
<path d="M293.7,207.3 C306.0,202.8 324.5,205.3 322.5,220.9" fill="none" stroke="#8f8b82" stroke-width="2.9" stroke-linecap="round" stroke-linejoin="round"/><path d="M293.7,207.3 C306.0,202.8 324.5,205.3 322.5,220.9" fill="none" stroke="#e7e3da" stroke-width="1.9" stroke-linecap="round" stroke-linejoin="round"/>
<path d="M322.5,220.9 C321.5,223.9 307.6,213.8 293.7,212.8" fill="none" stroke="#8f8b82" stroke-width="3.2" stroke-linecap="round" stroke-linejoin="round"/><path d="M322.5,220.9 C321.5,223.9 307.6,213.8 293.7,212.8" fill="none" stroke="#e7e3da" stroke-width="2.2" stroke-linecap="round" stroke-linejoin="round"/>
<path d="M285.3,212.6 C273.0,208.1 254.5,210.6 256.5,227.8" fill="none" stroke="#8f8b82" stroke-width="2.9" stroke-linecap="round" stroke-linejoin="round"/><path d="M285.3,212.6 C273.0,208.1 254.5,210.6 256.5,227.8" fill="none" stroke="#e7e3da" stroke-width="1.9" stroke-linecap="round" stroke-linejoin="round"/>
<path d="M256.5,227.8 C257.5,230.8 271.4,219.6 280.5,218.6" fill="none" stroke="#8f8b82" stroke-width="3.2" stroke-linecap="round" stroke-linejoin="round"/><path d="M256.5,227.8 C257.5,230.8 271.4,219.6 280.5,218.6" fill="none" stroke="#e7e3da" stroke-width="2.2" stroke-linecap="round" stroke-linejoin="round"/>
<path d="M293.7,212.6 C306.0,208.1 324.5,210.6 322.5,227.8" fill="none" stroke="#8f8b82" stroke-width="2.9" stroke-linecap="round" stroke-linejoin="round"/><path d="M293.7,212.6 C306.0,208.1 324.5,210.6 322.5,227.8" fill="none" stroke="#e7e3da" stroke-width="1.9" stroke-linecap="round" stroke-linejoin="round"/>
<path d="M322.5,227.8 C321.5,230.8 307.6,219.6 298.5,218.6" fill="none" stroke="#8f8b82" stroke-width="3.2" stroke-linecap="round" stroke-linejoin="round"/><path d="M322.5,227.8 C321.5,230.8 307.6,219.6 298.5,218.6" fill="none" stroke="#e7e3da" stroke-width="2.2" stroke-linecap="round" stroke-linejoin="round"/>
<path d="M281.2,217.9 C273.5,213.4 255.5,215.9 257.5,234.7" fill="none" stroke="#8f8b82" stroke-width="2.9" stroke-linecap="round" stroke-linejoin="round"/><path d="M281.2,217.9 C273.5,213.4 255.5,215.9 257.5,234.7" fill="none" stroke="#e7e3da" stroke-width="1.9" stroke-linecap="round" stroke-linejoin="round"/>
<path d="M257.5,234.7 C258.5,237.7 271.4,225.4 274.4,224.4" fill="none" stroke="#8f8b82" stroke-width="3.2" stroke-linecap="round" stroke-linejoin="round"/><path d="M257.5,234.7 C258.5,237.7 271.4,225.4 274.4,224.4" fill="none" stroke="#e7e3da" stroke-width="2.2" stroke-linecap="round" stroke-linejoin="round"/>
<path d="M297.8,217.9 C305.5,213.4 323.5,215.9 321.5,234.7" fill="none" stroke="#8f8b82" stroke-width="2.9" stroke-linecap="round" stroke-linejoin="round"/><path d="M297.8,217.9 C305.5,213.4 323.5,215.9 321.5,234.7" fill="none" stroke="#e7e3da" stroke-width="1.9" stroke-linecap="round" stroke-linejoin="round"/>
<path d="M321.5,234.7 C320.5,237.7 307.6,225.4 304.6,224.4" fill="none" stroke="#8f8b82" stroke-width="3.2" stroke-linecap="round" stroke-linejoin="round"/><path d="M321.5,234.7 C320.5,237.7 307.6,225.4 304.6,224.4" fill="none" stroke="#e7e3da" stroke-width="2.2" stroke-linecap="round" stroke-linejoin="round"/>
<path d="M275.6,223.2 C274.8,218.7 258.0,221.2 260.0,241.6" fill="none" stroke="#8f8b82" stroke-width="2.9" stroke-linecap="round" stroke-linejoin="round"/><path d="M275.6,223.2 C274.8,218.7 258.0,221.2 260.0,241.6" fill="none" stroke="#e7e3da" stroke-width="1.9" stroke-linecap="round" stroke-linejoin="round"/>
<path d="M260.0,241.6 C261.0,244.6 265.3,231.2 268.3,230.2" fill="none" stroke="#8f8b82" stroke-width="3.2" stroke-linecap="round" stroke-linejoin="round"/><path d="M260.0,241.6 C261.0,244.6 265.3,231.2 268.3,230.2" fill="none" stroke="#e7e3da" stroke-width="2.2" stroke-linecap="round" stroke-linejoin="round"/>
<path d="M303.4,223.2 C304.2,218.7 321.0,221.2 319.0,241.6" fill="none" stroke="#8f8b82" stroke-width="2.9" stroke-linecap="round" stroke-linejoin="round"/><path d="M303.4,223.2 C304.2,218.7 321.0,221.2 319.0,241.6" fill="none" stroke="#e7e3da" stroke-width="1.9" stroke-linecap="round" stroke-linejoin="round"/>
<path d="M319.0,241.6 C318.0,244.6 313.7,231.2 310.7,230.2" fill="none" stroke="#8f8b82" stroke-width="3.2" stroke-linecap="round" stroke-linejoin="round"/><path d="M319.0,241.6 C318.0,244.6 313.7,231.2 310.7,230.2" fill="none" stroke="#e7e3da" stroke-width="2.2" stroke-linecap="round" stroke-linejoin="round"/>
<path d="M286.0,214 C280.5,222 272.5,232 264.0,241" fill="none" stroke="#8f8b82" stroke-width="3.9" stroke-linecap="round" stroke-linejoin="round"/><path d="M286.0,214 C280.5,222 272.5,232 264.0,241" fill="none" stroke="#e7e3da" stroke-width="2.8" stroke-linecap="round" stroke-linejoin="round"/>
<path d="M293.0,214 C298.5,222 306.5,232 315.0,241" fill="none" stroke="#8f8b82" stroke-width="3.9" stroke-linecap="round" stroke-linejoin="round"/><path d="M293.0,214 C298.5,222 306.5,232 315.0,241" fill="none" stroke="#e7e3da" stroke-width="2.8" stroke-linecap="round" stroke-linejoin="round"/>
<path d="M284.5,173 L295,173 L293,182 L293,211 L290,216.5 L287,211 L286.5,182 Z" fill="#e2ded5" stroke="#8f8b82" stroke-width="0.6" stroke-linejoin="round" />
<path d="M250,172 C262,170.5 274,173.5 284,170.5" fill="none" stroke="#8f8b82" stroke-width="4.4" stroke-linecap="round" stroke-linejoin="round"/><path d="M250,172 C262,170.5 274,173.5 284,170.5" fill="none" stroke="#e7e3da" stroke-width="3.0" stroke-linecap="round" stroke-linejoin="round"/>
<path d="M330,172 C318,170.5 306,173.5 296,170.5" fill="none" stroke="#8f8b82" stroke-width="4.4" stroke-linecap="round" stroke-linejoin="round"/><path d="M330,172 C318,170.5 306,173.5 296,170.5" fill="none" stroke="#e7e3da" stroke-width="3.0" stroke-linecap="round" stroke-linejoin="round"/>
<path d="M276,176 C277,168 283,165.5 289.5,165.5 C296,165.5 302,168 303,176" fill="none" stroke="#8f8b82" stroke-width="2.9000000000000004" stroke-linecap="round" stroke-linejoin="round"/><path d="M276,176 C277,168 283,165.5 289.5,165.5 C296,165.5 302,168 303,176" fill="none" stroke="#e7e3da" stroke-width="1.8" stroke-linecap="round" stroke-linejoin="round"/>
<path d="M284.5,156 L294,156 L294.5,172 L284,172 Z" fill="#e7e3da" stroke="#8f8b82" stroke-width="0.7" stroke-linejoin="round" />
<path d="M282.8,159.5 L295.8,159.5" stroke="#8f8b82" stroke-width="2.2" stroke-linecap="round"/><path d="M283.2,159.5 L295.4,159.5" stroke="#e7e3da" stroke-width="1.2" stroke-linecap="round"/>
<path d="M282.8,163.5 L295.8,163.5" stroke="#8f8b82" stroke-width="2.2" stroke-linecap="round"/><path d="M283.2,163.5 L295.4,163.5" stroke="#e7e3da" stroke-width="1.2" stroke-linecap="round"/>
<path d="M282.8,167.5 L295.8,167.5" stroke="#8f8b82" stroke-width="2.2" stroke-linecap="round"/><path d="M283.2,167.5 L295.4,167.5" stroke="#e7e3da" stroke-width="1.2" stroke-linecap="round"/>
<path d="M281.7,222.6 L298.3,222.6" stroke="#8f8b82" stroke-width="2.4" stroke-linecap="round"/><path d="M282.2,222.6 L297.8,222.6" stroke="#e7e3da" stroke-width="1.3" stroke-linecap="round"/>
<path d="M284.2,217 C287.1,216.2 292.9,216.2 295.8,217 L295.5,222 C292.9,222.8 287.1,222.8 284.5,222 Z" fill="#e7e3da" stroke="#8f8b82" stroke-width="0.6" stroke-linejoin="round" />
<path d="M281.0,229.6 L299.0,229.6" stroke="#8f8b82" stroke-width="2.4" stroke-linecap="round"/><path d="M281.5,229.6 L298.5,229.6" stroke="#e7e3da" stroke-width="1.3" stroke-linecap="round"/>
<path d="M283.5,224 C286.75,223.2 293.25,223.2 296.5,224 L296.2,229 C293.25,229.8 286.75,229.8 283.8,229 Z" fill="#e7e3da" stroke="#8f8b82" stroke-width="0.6" stroke-linejoin="round" />
<path d="M280.3,236.6 L299.7,236.6" stroke="#8f8b82" stroke-width="2.4" stroke-linecap="round"/><path d="M280.8,236.6 L299.2,236.6" stroke="#e7e3da" stroke-width="1.3" stroke-linecap="round"/>
<path d="M282.8,231 C286.4,230.2 293.6,230.2 297.2,231 L296.9,236 C293.6,236.8 286.4,236.8 283.1,236 Z" fill="#e7e3da" stroke="#8f8b82" stroke-width="0.6" stroke-linejoin="round" />
<path d="M279.6,244.1 L300.4,244.1" stroke="#8f8b82" stroke-width="2.4" stroke-linecap="round"/><path d="M280.1,244.1 L299.9,244.1" stroke="#e7e3da" stroke-width="1.3" stroke-linecap="round"/>
<path d="M282.1,238.5 C286.05,237.7 293.95,237.7 297.9,238.5 L297.59999999999997,243.5 C293.95,244.3 286.05,244.3 282.40000000000003,243.5 Z" fill="#e7e3da" stroke="#8f8b82" stroke-width="0.6" stroke-linejoin="round" />
<path d="M278.9,251.6 L301.1,251.6" stroke="#8f8b82" stroke-width="2.4" stroke-linecap="round"/><path d="M279.4,251.6 L300.6,251.6" stroke="#e7e3da" stroke-width="1.3" stroke-linecap="round"/>
<path d="M281.4,246 C285.7,245.2 294.3,245.2 298.6,246 L298.3,251 C294.3,251.8 285.7,251.8 281.7,251 Z" fill="#e7e3da" stroke="#8f8b82" stroke-width="0.6" stroke-linejoin="round" />
<path d="M278.2,259.1 L301.8,259.1" stroke="#8f8b82" stroke-width="2.4" stroke-linecap="round"/><path d="M278.7,259.1 L301.3,259.1" stroke="#e7e3da" stroke-width="1.3" stroke-linecap="round"/>
<path d="M280.7,253.5 C285.35,252.7 294.65,252.7 299.3,253.5 L299.0,258.5 C294.65,259.3 285.35,259.3 281.0,258.5 Z" fill="#e7e3da" stroke="#8f8b82" stroke-width="0.6" stroke-linejoin="round" />
<path d="M279,258.5 C278.2,257.9 275.8,255.6 274.0,254.8 C272.2,254.0 270.1,253.8 268.3,253.9 C266.5,254.0 264.3,254.5 263.0,255.3 C261.7,256.2 260.8,257.5 260.4,259.0 C260.0,260.5 260.0,262.6 260.5,264.5 C261.0,266.4 262.0,268.4 263.2,270.5 C264.4,272.6 266.2,274.8 267.5,277.0 C268.8,279.2 269.6,281.7 271.0,284.0 C272.4,286.3 274.2,289.4 276.0,291.0 C277.8,292.6 279.7,293.3 282.0,293.8 C284.3,294.3 288.7,294.1 290.0,294.2 C290.0,294.2 288.7,294.3 290.0,294.2 C291.3,294.1 295.7,294.3 298.0,293.8 C300.3,293.3 302.2,292.6 304.0,291.0 C305.8,289.4 307.6,286.3 309.0,284.0 C310.4,281.7 311.2,279.2 312.5,277.0 C313.8,274.8 315.6,272.6 316.8,270.5 C318.0,268.4 319.0,266.4 319.5,264.5 C320.0,262.6 320.0,260.5 319.6,259.0 C319.2,257.5 318.3,256.2 317.0,255.3 C315.7,254.5 313.5,254.0 311.7,253.9 C309.9,253.8 307.8,254.0 306.0,254.8 C304.2,255.6 301.8,257.9 301.0,258.5 Z" fill="#e7e3da" stroke="#8f8b82" stroke-width="0.9" stroke-linejoin="round" />
<path d="M279,258.5 L301,258.5 C301.5,268 298,279 290,286 C282,279 278.5,268 279,258.5 Z" fill="#dfdbd1" stroke="#8f8b82" stroke-width="0.6" stroke-linejoin="round" />
<path d="M284,266 L286,266 M294,266 L296,266" stroke="#bdb6a7" stroke-width="0.9"/>
<path d="M284,271 L286,271 M294,271 L296,271" stroke="#bdb6a7" stroke-width="0.9"/>
<path d="M284,276 L286,276 M294,276 L296,276" stroke="#bdb6a7" stroke-width="0.9"/>
<ellipse cx="281.7" cy="287.3" rx="3.8" ry="3.1" fill="#fff" stroke="#b0aa9c" stroke-width="0.6"/>
<ellipse cx="298.3" cy="287.3" rx="3.8" ry="3.1" fill="#fff" stroke="#b0aa9c" stroke-width="0.6"/>
<path d="M276,273 C279,272 283,276 286,281 C285,283.5 282,283.5 279,282 C276.5,280 275,276 276,273 Z" fill="#fdfcfa" stroke="#b5afa1" stroke-width="0.5" stroke-linejoin="round" />
<path d="M304,273 C301,272 297,276 294,281 C295,283.5 298,283.5 301,282 C303.5,280 305,276 304,273 Z" fill="#fdfcfa" stroke="#b5afa1" stroke-width="0.5" stroke-linejoin="round" />
<path d="M283,257 C287,256 293,256 297,257 L297.5,263.5 C293,265 287,265 282.5,263.5 Z" fill="#e7e3da" stroke="#8f8b82" stroke-width="0.6" stroke-linejoin="round" />
<circle cx="290" cy="286.5" r="2.2" fill="#cfdde3"/>
<path d="M257.4,283.5 C258,280.5 261,279.8 264,280.4 L270.5,284 L270.2,291 L258.1,291.2 C257.2,289 257,286 257.4,283.5 Z" fill="#e7e3da" stroke="#8f8b82" stroke-width="0.6" stroke-linejoin="round" />
<path d="M322.6,283.5 C322,280.5 319,279.8 316,280.4 L309.5,284 L309.8,291 L321.9,291.2 C322.8,289 323,286 322.6,283.5 Z" fill="#e7e3da" stroke="#8f8b82" stroke-width="0.6" stroke-linejoin="round" />
<path d="M288.2,112.3 C297,112 304.5,118 304.6,127 C304.8,132 304.3,136 304.1,139.4 C303.5,141 302.5,142 301.1,142 C300.5,145 300,147.5 299.4,149.7 C298,153 296.5,155.5 295.1,156.8 C292,157.6 285,157.6 282.2,156.8 C280.5,155 278.8,152.5 277.9,149.7 C277.5,147 277.2,144.5 277,142 C275,141.5 272.6,140.5 272.3,139.4 C272,135 272.2,131 272.7,126.5 C273.5,117.5 279.5,112.5 288.2,112.3 Z" fill="#e6e2d9" stroke="#a19d94" stroke-width="0.8" stroke-linejoin="round" />
<defs><radialGradient id="eye" cx="0.5" cy="0.5" r="0.5"><stop offset="0" stop-color="#b9b2a4"/><stop offset="0.7" stop-color="#c9c2b4"/><stop offset="1" stop-color="#d6d0c3"/></radialGradient></defs>
<ellipse cx="280.9" cy="131.6" rx="5.3" ry="4.6" fill="url(#eye)"/>
<ellipse cx="295.6" cy="131.6" rx="5.3" ry="4.6" fill="url(#eye)"/>
<path d="M288.2,134.5 C290,134.5 291.2,138 291,140.5 C290.8,142 289.5,142.5 288.2,142.5 C286.9,142.5 285.6,142 285.4,140.5 C285.2,138 286.4,134.5 288.2,134.5 Z" fill="#c2bbad"/>
<path d="M279.5,146 C284,145 292,145 296.5,146 L296,151.5 C291,152.5 284.5,152.5 280,151.5 Z" fill="#f8f8fa" stroke="#c5c0b4" stroke-width="0.5"/>
<path d="M280,148.8 L296,148.8 M283,146 L283,151.5 M286,145.7 L286,152 M289,145.7 L289,152 M292,145.8 L292,151.8" stroke="#d2d0cc" stroke-width="0.45"/>
<path d="M273,139 C276,140.5 279,141 282,140 M303.5,139 C300.5,140.5 297.5,141 294.5,140" fill="none" stroke="#c5bfb1" stroke-width="0.6"/>
<path d="M286,183 C285.5,180.7 284.5,173.5 283.0,169.0 C281.5,164.5 279.5,160.5 277.2,156.2 C274.9,151.9 272.2,147.4 269.3,143.4 C266.4,139.4 262.8,135.4 259.5,132.1 C256.2,128.8 252.9,125.8 249.6,123.3 C246.3,120.8 243.1,118.9 239.8,117.4 C236.5,115.9 233.8,115.1 230.0,114.4 C226.2,113.7 221.3,113.3 217.0,113.3 C212.7,113.3 208.0,113.9 204.0,114.6 C200.0,115.3 194.7,117.2 192.8,117.7 L191.3,115.2 L182.9,132.3 L201.7,130 L200.4,127.6 L200.4,127.6 C202.5,126.9 208.3,124.3 213.0,123.6 C217.7,122.9 223.8,122.7 228.3,123.2 C232.8,123.7 236.2,125.2 239.8,126.7 C243.4,128.2 246.3,130.0 249.6,132.1 C252.9,134.2 256.2,136.6 259.5,139.5 C262.8,142.4 266.4,145.9 269.3,149.3 C272.2,152.7 274.9,156.3 277.2,160.1 C279.5,163.9 281.5,168.1 283.0,171.9 C284.5,175.7 285.5,181.2 286.0,183.0 Z" fill="#d5d7d9" stroke="#90959a" stroke-width="1.0" stroke-linejoin="round"/>
<path d="M292.6,227.7 C293.5,229.0 294.7,232.0 297.7,235.3 C300.7,238.6 306.2,244.2 310.4,247.4 C314.6,250.6 318.9,252.8 323.1,254.4 C327.3,256.0 331.7,256.8 335.8,257.2 C339.9,257.6 344.0,257.3 348.0,256.8 C352.0,256.3 356.3,255.2 360.0,254.0 C363.7,252.8 366.6,251.2 370.0,249.5 C373.4,247.8 376.5,246.3 380.4,243.8 C384.2,241.3 389.3,237.5 393.1,234.3 C396.9,231.1 401.6,226.4 403.3,224.8 L401.3,222.2 L422.3,211.4 L416,233.7 L412.8,230.5 L412.8,230.5 C411.6,231.6 409.1,234.3 405.8,236.8 C402.5,239.3 397.3,242.9 393.1,245.7 C388.9,248.4 384.6,251.1 380.4,253.3 C376.2,255.5 371.9,257.6 367.7,259.0 C363.5,260.4 359.1,261.5 355.0,262.0 C350.9,262.5 346.2,262.2 343.0,262.0 C339.8,261.8 339.1,261.6 335.8,260.7 C332.5,259.8 327.3,258.8 323.1,256.9 C318.9,255.0 314.6,252.7 310.4,249.3 C306.2,245.9 300.7,240.2 297.7,236.6 C294.7,233.0 293.5,229.2 292.6,227.7 Z" fill="#d5d7d9" stroke="#90959a" stroke-width="1.0" stroke-linejoin="round"/>
<path d="M271.4,344.3 C269.7,341.7 265.5,333.7 261.4,328.6 C257.3,323.5 251.8,317.5 247.0,313.6 C242.2,309.7 237.4,307.2 232.9,305.0 C228.4,302.8 224.9,301.7 220.0,300.5 C215.1,299.3 208.4,298.0 203.5,297.6 C198.6,297.2 195.0,297.5 190.8,298.3 C186.6,299.1 182.3,300.7 178.1,302.7 C173.9,304.7 169.2,307.6 165.4,310.3 C161.6,313.1 156.9,317.7 155.2,319.2 L148.3,323.7 L147.6,342.7 L163.5,332.5 L161,330.6 L161,330.6 C162.2,329.3 165.2,325.5 168.0,323.0 C170.8,320.5 174.3,317.7 178.1,315.4 C181.9,313.1 186.6,310.6 190.8,309.0 C195.0,307.4 198.6,306.1 203.5,305.5 C208.4,304.9 215.1,304.9 220.0,305.5 C224.9,306.1 228.4,307.1 232.9,309.0 C237.4,310.9 242.2,313.4 247.0,317.1 C251.8,320.8 257.3,326.9 261.4,331.4 C265.5,335.9 269.7,342.1 271.4,344.3 Z" fill="#d5d7d9" stroke="#90959a" stroke-width="1.0" stroke-linejoin="round"/>
<path d="M275.7,370.5 C275.8,371.6 275.8,373.1 276.3,377.3 C276.8,381.5 278.3,389.5 278.8,395.6 C279.3,401.7 279.6,407.9 279.4,414.0 C279.2,420.1 278.7,427.3 277.6,432.4 C276.5,437.5 274.7,440.8 272.7,444.7 C270.7,448.6 268.1,452.6 265.7,456.0 C263.3,459.4 261.4,461.8 258.5,465.2 C255.6,468.6 252.1,472.8 248.3,476.6 C244.5,480.4 240.2,484.6 235.6,488.0 C230.9,491.4 223.5,495.1 220.4,496.9 C217.3,498.7 217.7,498.5 217.2,498.8 L215.3,496.3 L201.3,508.3 L219.1,514.7 L218.5,511.5 L218.5,511.5 C220.9,510.1 228.1,506.4 233.1,503.3 C238.1,500.2 243.7,496.9 248.3,493.1 C253.0,489.3 257.4,484.6 261.0,480.4 C264.6,476.2 267.8,471.8 269.9,467.7 C272.0,463.6 272.4,459.8 273.5,456.0 C274.6,452.2 275.2,448.6 276.3,444.7 C277.4,440.8 279.2,437.5 280.0,432.4 C280.8,427.3 281.1,420.1 281.2,414.0 C281.3,407.9 281.2,401.7 280.6,395.6 C280.0,389.5 278.4,381.5 277.6,377.3 C276.8,373.1 276.0,371.6 275.7,370.5 Z" fill="#d5d7d9" stroke="#90959a" stroke-width="1.0" stroke-linejoin="round"/>
<path d="M282.5,456.3 C283.8,453.0 286.9,442.9 290.0,436.7 C293.1,430.5 297.4,424.1 301.1,418.9 C304.8,413.7 306.6,410.4 312.2,405.6 C317.8,400.8 327.0,393.7 334.4,390.0 C341.8,386.3 349.3,384.3 356.7,383.3 C364.1,382.3 372.2,382.9 378.9,383.8 C385.6,384.7 392.2,387.4 396.7,388.9 C401.1,390.3 404.1,391.9 405.6,392.5 L408.9,386.7 L416.7,402.9 L396.7,402.2 L398.9,398.9 L398.9,398.9 C395.6,398.0 385.9,394.4 378.9,393.3 C371.9,392.2 364.1,391.4 356.7,392.2 C349.3,392.9 341.8,394.3 334.4,397.8 C327.0,401.3 317.8,408.7 312.2,413.3 C306.6,417.9 304.8,420.6 301.1,425.6 C297.4,430.6 293.1,438.2 290.0,443.3 C286.9,448.4 283.8,454.1 282.5,456.3 Z" fill="#d5d7d9" stroke="#90959a" stroke-width="1.0" stroke-linejoin="round"/>
<path d="M146.1,154 L166.7,154" fill="none" stroke="#3a3a3a" stroke-width="1.0"/>
<path d="M121.8,358.1 L142.1,358.1" fill="none" stroke="#3a3a3a" stroke-width="1.0"/>
<path d="M141.9,512.3 L170.5,512.3" fill="none" stroke="#3a3a3a" stroke-width="1.0"/>
<path d="M498.7,124.5 L473,148.5" fill="none" stroke="#3a3a3a" stroke-width="1.0"/>
<path d="M391.6,418.5 L409.4,418.5 L456.7,433.2" fill="none" stroke="#3a3a3a" stroke-width="1.0"/>
<path d="M413.4,457.6 L474.2,441.9" fill="none" stroke="#3a3a3a" stroke-width="1.0"/>
<path d="M391.2,494 L480.3,455.9" fill="none" stroke="#3a3a3a" stroke-width="1.0"/>
<text x="154.8" y="77.7" stroke="#222" stroke-width="0.2">Flat bone</text>
<text x="434.3" y="77.4" stroke="#222" stroke-width="0.2">Irregular bone</text>
<text x="485.9" y="120.6" stroke="#222" stroke-width="0.2">Vertebra</text>
<text x="111.2" y="156.7" stroke="#222" stroke-width="0.2">Sternum</text>
<text x="92.9" y="235.6" stroke="#222" stroke-width="0.2">Long bone</text>
<text x="95.2" y="361.3" stroke="#222" stroke-width="0.2">Femur</text>
<text x="439.7" y="327.4" stroke="#222" stroke-width="0.2">Short bones</text>
<text x="144.8" y="443.3" stroke="#222" stroke-width="0.2">Sesamoid bone</text>
<text x="115.0" y="514.6" stroke="#222" stroke-width="0.2">Patella</text>
<text x="361.1" y="421.9" stroke="#222" stroke-width="0.2">Lateral</text>
<text x="361.1" y="430.6" stroke="#222" stroke-width="0.2">cuneiform</text>
<text x="361.1" y="460.6" stroke="#222" stroke-width="0.2">Intermediate</text>
<text x="361.1" y="469.5" stroke="#222" stroke-width="0.2">cuneiform</text>
<text x="361.1" y="496.8" stroke="#222" stroke-width="0.2">Medial</text>
<text x="361.1" y="505.5" stroke="#222" stroke-width="0.2">cuneiform</text>
</svg>

<div class="a cap"><b>Figure 6.6 Classifications of Bones</b>&nbsp;&nbsp; Bones are classified according to their shape.</div>
<div class="a h2" style="top:621.3px">Long Bones</div>
<div class="a p" style="top:644.6px"><span class="l">A <b>long bone</b> is one that is cylindrical in shape, being longer than it is wide. Keep in mind, however, that the term describes</span><span class="l">the shape of a bone, not its size. Long bones are found in the arms (humerus, ulna, radius) and legs (femur, tibia, fibula), as</span><span class="l">well as in the fingers (metacarpals, phalanges) and toes (metatarsals, phalanges). Long bones function as levers; they move</span><span class="last">when muscles contract.</span></div>
<div class="a h2" style="top:695.4px">Short Bones</div>
<div class="a p" style="top:719.2px"><span class="l">A <b>short bone</b> is one that is cube-like in shape, being approximately equal in length, width, and thickness. The only short</span><span class="l">bones in the human skeleton are in the carpals of the wrists and the tarsals of the ankles. Short bones provide stability and</span><span class="last">support as well as some limited motion.</span></div>
</body></html>
